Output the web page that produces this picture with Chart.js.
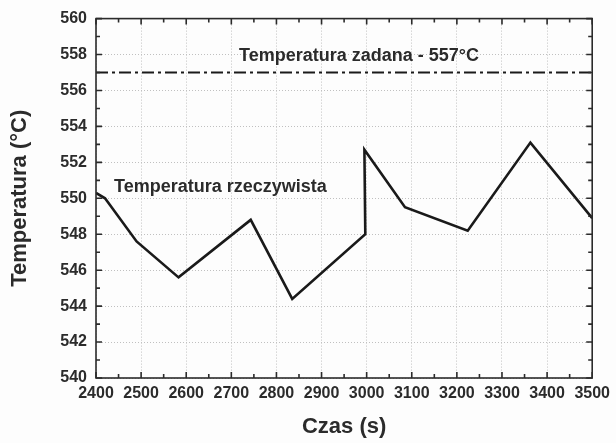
<!DOCTYPE html>
<html>
<head>
<meta charset="utf-8">
<script src="https://cdn.jsdelivr.net/npm/chart.js@4"></script>
<style>
  html, body { margin: 0; padding: 0; background: #fdfdfd; }
  #wrap { width: 616px; height: 443px; }
</style>
</head>
<body>
<div id="wrap"><canvas id="chart" width="616" height="443"></canvas></div>
<script>
// measured temperature over time
const czas = [2400, 2420, 2490, 2583, 2743, 2835, 2997, 2995, 3085, 3224, 3363, 3500];
const tempRzecz = [550.3, 550.0, 547.6, 545.6, 548.8, 544.4, 548.0, 552.7, 549.5, 548.2, 553.1, 548.9];
// set point
const tempZadana = 557;
const xTicks = [2400, 2500, 2600, 2700, 2800, 2900, 3000, 3100, 3200, 3300, 3400, 3500];
const yTicks = [540, 542, 544, 546, 548, 550, 552, 554, 556, 558, 560];

const ink = '#2b2b2b';
const fontFam = 'Liberation Sans, Arial, sans-serif';
const tickFont = { family: fontFam, size: 16, weight: 'bold' };

// frame, inward ticks (major + minor), axis titles and text labels
const framePlugin = {
  id: 'frame',
  afterDraw(chart) {
    const { ctx, chartArea: a, scales: { x, y } } = chart;
    ctx.save();
    ctx.strokeStyle = ink;
    ctx.lineWidth = 1.6;
    ctx.strokeRect(a.left, a.top, a.right - a.left, a.bottom - a.top);

    ctx.beginPath();
    for (let v = 2400; v <= 3500; v += 50) {
      const px = x.getPixelForValue(v);
      const len = v % 100 === 0 ? 6 : 4;
      ctx.moveTo(px, a.bottom); ctx.lineTo(px, a.bottom - len);
      ctx.moveTo(px, a.top); ctx.lineTo(px, a.top + len);
    }
    for (let v = 540; v <= 560; v += 1) {
      const py = y.getPixelForValue(v);
      const len = v % 2 === 0 ? 6 : 4;
      ctx.moveTo(a.left, py); ctx.lineTo(a.left + len, py);
      ctx.moveTo(a.right, py); ctx.lineTo(a.right - len, py);
    }
    ctx.stroke();

    ctx.fillStyle = ink;
    ctx.font = 'bold 18px ' + fontFam;
    ctx.textBaseline = 'middle';
    ctx.textAlign = 'left';
    ctx.fillText('Temperatura zadana - ' + tempZadana + '°C', x.getPixelForValue(2717), y.getPixelForValue(557.9));
    ctx.fillText('Temperatura rzeczywista', x.getPixelForValue(2440), y.getPixelForValue(550.6));

    ctx.font = 'bold 22px ' + fontFam;
    ctx.textAlign = 'center';
    ctx.fillText('Czas (s)', (a.left + a.right) / 2, 427);
    ctx.translate(20, (a.top + a.bottom) / 2);
    ctx.rotate(-Math.PI / 2);
    ctx.fillText('Temperatura (°C)', 0, 0);
    ctx.restore();
  }
};

new Chart(document.getElementById('chart'), {
  type: 'line',
  data: {
    datasets: [
      {
        label: 'Temperatura rzeczywista',
        data: czas.map((t, i) => ({ x: t, y: tempRzecz[i] })),
        borderColor: '#1a1a1a',
        borderWidth: 2.6,
        pointRadius: 0,
        tension: 0,
        borderJoinStyle: 'miter'
      },
      {
        label: 'Temperatura zadana',
        data: [{ x: xTicks[0], y: tempZadana }, { x: xTicks[xTicks.length - 1], y: tempZadana }],
        borderColor: '#1a1a1a',
        borderWidth: 2,
        borderDash: [12, 4, 3, 4],
        pointRadius: 0
      }
    ]
  },
  options: {
    responsive: false,
    animation: false,
    layout: { padding: { top: 14, right: 18, left: 0, bottom: 0 } },
    plugins: { legend: { display: false }, tooltip: { enabled: false } },
    scales: {
      x: {
        type: 'linear',
        min: 2400, max: 3500,
        afterBuildTicks: s => { s.ticks = xTicks.map(v => ({ value: v })); },
        afterFit: s => { s.height = 65; },
        grid: { color: '#c0c0c0', lineWidth: 1, drawTicks: false },
        border: { display: false, dash: [1, 2] },
        ticks: { color: ink, font: tickFont, padding: 6, maxRotation: 0, autoSkip: false,
                 callback: v => String(v) }
      },
      y: {
        min: 540, max: 560,
        afterBuildTicks: s => { s.ticks = yTicks.map(v => ({ value: v })); },
        afterFit: s => { s.width = 96; },
        grid: { color: '#c0c0c0', lineWidth: 1, drawTicks: false },
        border: { display: false, dash: [1, 2] },
        ticks: { color: ink, font: tickFont, padding: 9, callback: v => String(v) }
      }
    }
  },
  plugins: [framePlugin]
});
</script>
</body>
</html>
